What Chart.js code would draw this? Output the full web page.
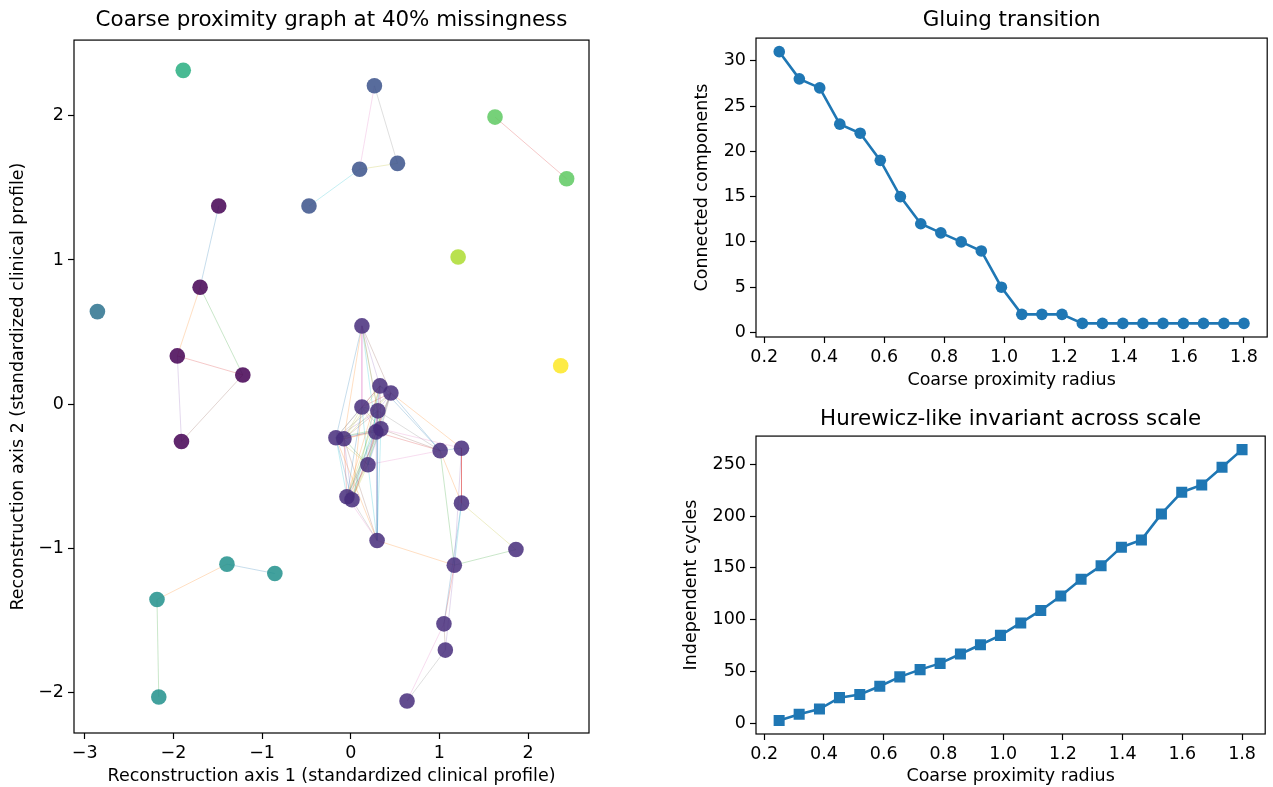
<!DOCTYPE html>
<html>
<head>
<meta charset="utf-8">
<script src="https://cdn.jsdelivr.net/npm/chart.js@4/dist/chart.umd.min.js"></script>
<style>
  body { margin: 0; background: #fff; }
  canvas { position: absolute; }
</style>
</head>
<body>
<canvas id="graph" width="610" height="787" style="left:0;top:0"></canvas>
<canvas id="gluing" width="593" height="400" style="left:680px;top:0"></canvas>
<canvas id="cycles" width="593" height="387" style="left:680px;top:400px"></canvas>
<script>
// ---- scatter graph: node coordinates and component id ----
var nodeX = [-1.489, -1.699, -1.956, -1.217, -1.909,
  0.126, 0.329, 0.453, 0.126, 0.306, 0.340, 0.284, -0.167, -0.077, 0.194,
  1.008, 1.249, -0.043, 0.014, 1.249, 0.297, 1.863, 1.168, 1.051, 1.067, 0.635,
  0.267, 0.100, 0.527, -0.471,
  -2.857,
  -1.396, -0.856, -2.185, -2.165,
  -1.889,
  1.627, 2.435,
  1.211,
  2.368];
var nodeY = [1.374, 0.811, 0.335, 0.203, -0.259,
  0.543, 0.127, 0.078, -0.019, -0.046, -0.171, -0.192, -0.233, -0.240, -0.420,
  -0.322, -0.305, -0.642, -0.663, -0.686, -0.945, -1.008, -1.116, -1.523, -1.705, -2.058,
  2.208, 1.629, 1.670, 1.374,
  0.642,
  -1.109, -1.174, -1.354, -2.030,
  2.315,
  1.991, 1.563,
  1.021,
  0.267];
var nodeComponent = [0, 0, 0, 0, 0,
  1, 1, 1, 1, 1, 1, 1, 1, 1, 1, 1, 1, 1, 1, 1, 1, 1, 1, 1, 1, 1,
  2, 2, 2, 2,
  3,
  4, 4, 4, 4,
  5,
  6, 6,
  7,
  8];
// edges as pairs of node indices
var edges = [
  [0, 1], [1, 2], [1, 3], [2, 3], [2, 4], [3, 4],
  [26, 27], [26, 28], [27, 28], [27, 29],
  [31, 32], [31, 33], [33, 34],
  [36, 37],
  [5, 6], [5, 7], [5, 8], [5, 9], [5, 10], [5, 11], [5, 12], [5, 13],
  [6, 7], [6, 8], [6, 9], [6, 10], [6, 11], [6, 12], [6, 13], [6, 14], [6, 15], [6, 17], [6, 18],
  [7, 8], [7, 9], [7, 10], [7, 11], [7, 12], [7, 13], [7, 14], [7, 15], [7, 16], [7, 17], [7, 18],
  [8, 9], [8, 10], [8, 11], [8, 12], [8, 13], [8, 14], [8, 17], [8, 18],
  [9, 10], [9, 11], [9, 12], [9, 13], [9, 14], [9, 15], [9, 17], [9, 18], [9, 20],
  [10, 11], [10, 12], [10, 13], [10, 14], [10, 15], [10, 16], [10, 17], [10, 18], [10, 20],
  [11, 12], [11, 13], [11, 14], [11, 15], [11, 17], [11, 18], [11, 20],
  [12, 13], [12, 14], [12, 17], [12, 18], [12, 20],
  [13, 14], [13, 17], [13, 18], [13, 20],
  [14, 15], [14, 17], [14, 18], [14, 20],
  [15, 16], [15, 19], [15, 22],
  [16, 19], [16, 22],
  [17, 18], [17, 20],
  [18, 20],
  [19, 21], [19, 22], [19, 23],
  [20, 22],
  [21, 22],
  [22, 23], [22, 24],
  [23, 24], [23, 25],
  [24, 25]
];
var graphXTicks = [-3, -2, -1, 0, 1, 2];
var graphYTicks = [-2, -1, 0, 1, 2];

// ---- scale curves ----
var radius = [0.25, 0.317, 0.385, 0.452, 0.52, 0.587, 0.654, 0.722, 0.789, 0.857, 0.924, 0.991,
  1.059, 1.126, 1.193, 1.261, 1.328, 1.396, 1.463, 1.53, 1.598, 1.665, 1.733, 1.8];
var components = [31, 28, 27, 23, 22, 19, 15, 12, 11, 10, 9, 5, 2, 2, 2, 1, 1, 1, 1, 1, 1, 1, 1, 1];
var cycles = [3, 9, 14, 25, 28, 36, 45, 52, 58, 67, 76, 85, 97, 109, 123, 139, 152, 170, 177, 202, 223, 230, 247, 264];
var radiusTicks = [0.2, 0.4, 0.6, 0.8, 1.0, 1.2, 1.4, 1.6, 1.8];
var componentTicks = [0, 5, 10, 15, 20, 25, 30];
var cycleTicks = [0, 50, 100, 150, 200, 250];

// styles
var viridis9 = ['#440154', '#472d7b', '#3b528b', '#2c728e', '#21918c', '#28ae80', '#5ec962', '#addc30', '#fde725'];
var tab10 = ['31,119,180', '255,127,14', '44,160,44', '214,39,40', '148,103,189',
  '140,86,75', '227,119,194', '127,127,127', '188,189,34', '23,190,207'];

Chart.defaults.font.family = 'DejaVu Sans';
Chart.defaults.font.size = 17.5;
Chart.defaults.color = '#000';
Chart.defaults.animation = false;

var boxPlugin = {
  id: 'box',
  afterDatasetsDraw: function (chart) {
    var a = chart.chartArea, ctx = chart.ctx;
    ctx.save();
    ctx.strokeStyle = '#000';
    ctx.lineWidth = 1.2;
    ctx.strokeRect(a.left, a.top, a.right - a.left, a.bottom - a.top);
    ctx.restore();
  }
};

function minusFmt(v) { return v < 0 ? '\u2212' + Math.abs(v) : String(v); }

function axis(min, max, tickValues, fmt, title, size, titlePad, horizontal) {
  return {
    type: 'linear',
    min: min,
    max: max,
    border: { display: false },
    grid: { display: true, drawOnChartArea: false, drawTicks: true, tickLength: 6, color: '#000', tickColor: '#000', tickWidth: 1.2 },
    ticks: { padding: 4, color: '#000', callback: fmt, maxRotation: 0, autoSkip: false },
    title: { display: true, text: title, color: '#000', font: { size: 17.5 }, padding: titlePad },
    afterBuildTicks: function (s) { s.ticks = tickValues.map(function (v) { return { value: v }; }); },
    afterFit: function (s) { if (horizontal) s.height = size; else s.width = size; }
  };
}

function titleOpt(text, top, bottom) {
  return { display: true, text: text, fullSize: false, color: '#000',
    font: { size: 21.4, weight: 'normal' }, padding: { top: top, bottom: bottom } };
}

// ---- graph chart ----
var nodePoints = nodeX.map(function (x, i) { return { x: x, y: nodeY[i] }; });
var nodeColors = nodeComponent.map(function (c) { return viridis9[c] + 'd9'; });
var graphSets = [{
  data: nodePoints,
  pointRadius: 7.8,
  pointBackgroundColor: nodeColors,
  pointBorderWidth: 0,
  showLine: false,
  order: 0
}];
edges.forEach(function (e, k) {
  graphSets.push({
    data: [nodePoints[e[0]], nodePoints[e[1]]],
    showLine: true,
    pointRadius: 0,
    borderWidth: 1,
    borderColor: 'rgba(' + tab10[k % 10] + ',0.25)',
    order: 1
  });
});

new Chart(document.getElementById('graph'), {
  type: 'scatter',
  data: { datasets: graphSets },
  options: {
    responsive: false,
    layout: { padding: { left: 0, right: 21, top: 0, bottom: 0 } },
    plugins: {
      legend: { display: false },
      tooltip: { enabled: false },
      title: titleOpt('Coarse proximity graph at 40% missingness', 7.2, 7.2)
    },
    scales: {
      x: axis(-3.121, 2.687, graphXTicks, minusFmt, 'Reconstruction axis 1 (standardized clinical profile)', 54, { top: 0, bottom: 0 }, true),
      y: axis(-2.280, 2.525, graphYTicks, minusFmt, 'Reconstruction axis 2 (standardized clinical profile)', 74, { top: 8, bottom: 8 }, false)
    }
  },
  plugins: [boxPlugin]
});

// ---- right-hand curves ----
function curve(id, values, marker, markerRadius, yMin, yMax, yTicks, yTitle, title, tPad, xAxisH, xTitlePad, yTitlePad) {
  new Chart(document.getElementById(id), {
    type: 'line',
    data: {
      datasets: [{
        data: radius.map(function (r, i) { return { x: r, y: values[i] }; }),
        borderColor: '#1f77b4',
        borderWidth: 2.6,
        pointStyle: marker,
        pointRadius: markerRadius,
        pointBackgroundColor: '#1f77b4',
        pointBorderWidth: 0,
        tension: 0
      }]
    },
    options: {
      responsive: false,
      layout: { padding: { left: 0, right: 2, top: 0, bottom: 0 } },
      plugins: {
        legend: { display: false },
        tooltip: { enabled: false },
        title: titleOpt(title, tPad[0], tPad[1])
      },
      scales: {
        x: axis(0.1725, 1.8775, radiusTicks, function (v) { return v.toFixed(1); }, 'Coarse proximity radius', xAxisH, xTitlePad, true),
        y: axis(yMin, yMax, yTicks, function (v) { return String(v); }, yTitle, 76, yTitlePad, false)
      }
    },
    plugins: [boxPlugin]
  });
}

curve('gluing', components, 'circle', 5.8, -0.5, 32.5, componentTicks, 'Connected components',
  'Gluing transition', [7.2, 5.2], 63, { top: 9, bottom: 9 }, { top: 12, bottom: 12 });
curve('cycles', cycles, 'rect', 7.8, -10.05, 277.05, cycleTicks, 'Independent cycles',
  'Hurewicz-like invariant across scale', [6.2, 4.2], 53, { top: 0, bottom: 0 }, { top: 1, bottom: 1 });
</script>
</body>
</html>
